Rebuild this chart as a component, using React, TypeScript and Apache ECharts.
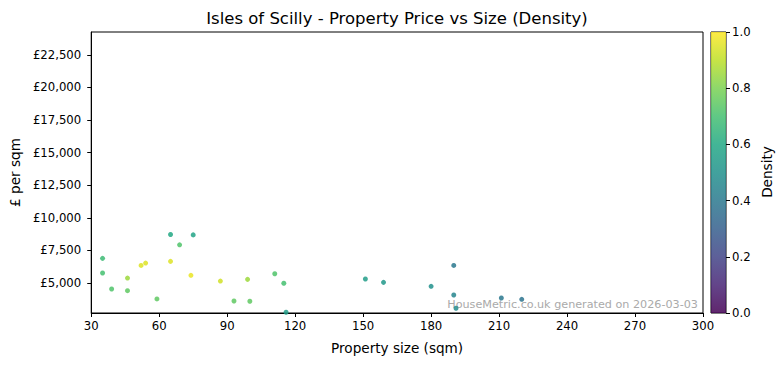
import React, { useEffect, useRef } from "react";
import * as echarts from "echarts";

const sizes = [35, 35, 39, 46, 46, 52, 54, 59, 65, 65, 69, 74, 75, 87, 93, 99, 100, 111, 115, 116, 151, 159, 180, 190, 190, 191, 211, 220];
const prices = [6890, 5765, 4540, 5380, 4410, 6350, 6530, 3780, 8720, 6660, 7930, 5590, 8690, 5150, 3620, 5280, 3600, 5710, 4980, 2760, 5310, 5050, 4745, 6350, 4080, 3065, 3850, 3750];
const densities = [0.68, 0.7, 0.72, 0.85, 0.75, 0.95, 0.95, 0.75, 0.6, 0.95, 0.72, 0.97, 0.58, 0.93, 0.75, 0.85, 0.75, 0.72, 0.7, 0.55, 0.55, 0.53, 0.5, 0.4, 0.45, 0.48, 0.4, 0.38];
const yTicks = [5000, 7500, 10000, 12500, 15000, 17500, 20000, 22500];
const viridis = ["#440154", "#482475", "#414487", "#355f8d", "#2a788e", "#21918c", "#22a884", "#44bf70", "#7ad151", "#bddf26", "#fde725"];

const FONT = "DejaVu Sans";

export default function App() {
  const ref = useRef<HTMLDivElement>(null);
  useEffect(() => {
    document.body.style.margin = "0";
    const chart = echarts.init(ref.current!, undefined, { renderer: "svg" });
    const data = sizes.map((s, i) => [s, prices[i], densities[i]]);
    const gradient = new echarts.graphic.LinearGradient(
      0, 1, 0, 0,
      viridis.map((c, i) => ({ offset: i / (viridis.length - 1), color: c }))
    );
    chart.setOption({
      animation: false,
      textStyle: { fontFamily: FONT },
      grid: [
        { left: 91, right: 80, top: 32, bottom: 52, show: true, borderColor: "#000", borderWidth: 1, containLabel: false },
        { left: 711, width: 15, top: 32, bottom: 52, show: true, borderColor: "#000", borderWidth: 1 },
      ],
      xAxis: [
        {
          type: "value", gridIndex: 0, min: 30, max: 300, interval: 30,
          name: "Property size (sqm)", nameLocation: "middle", nameGap: 28,
          nameTextStyle: { color: "#000", fontSize: 13.6, fontFamily: FONT },
          axisLine: { show: true, lineStyle: { color: "#000" } },
          axisTick: { show: true, length: 4, lineStyle: { color: "#000" } },
          axisLabel: { color: "#000", fontSize: 11.7, fontFamily: FONT, margin: 7 },
          splitLine: { show: false },
        },
        { type: "category", gridIndex: 1, data: ["c"], show: false, boundaryGap: true },
      ],
      yAxis: [
        {
          type: "value", gridIndex: 0, min: 2700, max: 24250,
          name: "£ per sqm", nameLocation: "middle", nameGap: 68,
          nameTextStyle: { color: "#000", fontSize: 13.6, fontFamily: FONT },
          axisLine: { show: true, lineStyle: { color: "#000" } },
          axisTick: { show: true, length: 4, lineStyle: { color: "#000" }, customValues: yTicks },
          axisLabel: {
            color: "#000", fontSize: 11.7, fontFamily: FONT, margin: 10, customValues: yTicks,
            formatter: (v: number) => "£" + v.toLocaleString("en-GB"),
          },
          splitLine: { show: false },
        },
        {
          type: "value", gridIndex: 1, min: 0, max: 1, interval: 0.2, position: "right",
          axisLine: { show: false },
          axisTick: { show: true, length: 4, lineStyle: { color: "#000" } },
          axisLabel: { color: "#000", fontSize: 11.7, fontFamily: FONT, margin: 6, formatter: (v: number) => v.toFixed(1) },
          splitLine: { show: false },
        },
      ],
      visualMap: {
        show: false, type: "continuous", seriesIndex: 0, dimension: 2, min: 0, max: 1,
        inRange: { color: viridis },
      },
      graphic: [
        {
          type: "text", x: 397, y: 18,
          style: { text: "Isles of Scilly - Property Price vs Size (Density)", fontSize: 16.5, fontFamily: FONT, fill: "#000", textAlign: "center", textVerticalAlign: "middle" },
        },
        {
          type: "text", x: 767, y: 172, rotation: Math.PI / 2,
          style: { text: "Density", fontSize: 13.6, fontFamily: FONT, fill: "#000", textAlign: "center", textVerticalAlign: "middle" },
        },
        {
          type: "text", x: 698, y: 304,
          style: { text: "HouseMetric.co.uk generated on 2026-03-03", fontSize: 11.2, fontFamily: FONT, fill: "#aaaaaa", textAlign: "right", textVerticalAlign: "middle" },
        },
      ],
      series: [
        {
          type: "scatter", xAxisIndex: 0, yAxisIndex: 0, data, symbolSize: 5,
          itemStyle: { opacity: 0.85 },
        },
        {
          type: "bar", xAxisIndex: 1, yAxisIndex: 1, data: [1], barWidth: "100%",
          itemStyle: { color: gradient, opacity: 0.85 },
          silent: true,
        },
      ],
    });
    return () => chart.dispose();
  }, []);
  return <div ref={ref} style={{ width: 783, height: 365 }} />;
}
